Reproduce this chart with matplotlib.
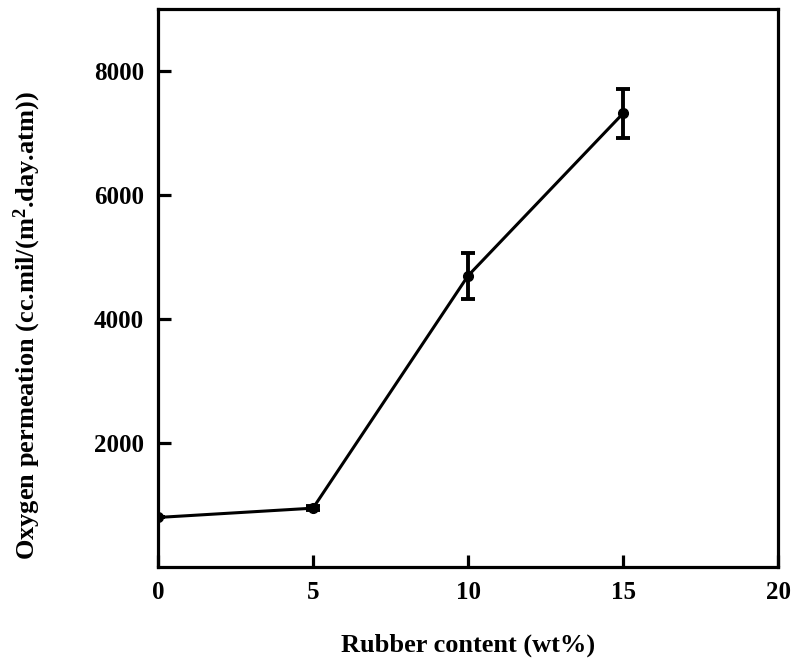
import matplotlib
matplotlib.use("Agg")
import matplotlib.pyplot as plt

rubber_content = [0, 5, 10, 15]
permeation = [800, 950, 4700, 7320]
permeation_err = [0, 30, 370, 400]

x_ticks = [0, 5, 10, 15, 20]
y_ticks = [2000, 4000, 6000, 8000]

plt.rcParams["font.family"] = ["Liberation Serif", "DejaVu Serif"]
plt.rcParams["font.weight"] = "bold"
plt.rcParams["mathtext.fontset"] = "custom"
plt.rcParams["mathtext.rm"] = "Liberation Serif:bold"
plt.rcParams["mathtext.bf"] = "Liberation Serif:bold"
plt.rcParams["mathtext.it"] = "Liberation Serif:bold"

fig = plt.figure(figsize=(7.98, 6.66), dpi=100)
ax = fig.add_axes([0.198, 0.1486, 0.777, 0.8374])

ax.errorbar(rubber_content, permeation, yerr=permeation_err,
            color="black", linewidth=2.2, marker="o", markersize=7,
            elinewidth=2.8, capsize=5, capthick=2.8)

ax.set_xlim(0, 20)
ax.set_ylim(0, 9000)
ax.set_xticks(x_ticks)
ax.set_yticks(y_ticks)

for s in ax.spines.values():
    s.set_linewidth(2.3)
ax.tick_params(direction="in", length=9, width=2.3, labelsize=18, pad=10)
for lbl in ax.get_xticklabels() + ax.get_yticklabels():
    lbl.set_fontweight("bold")

ax.set_xlabel("Rubber content (wt%)", fontsize=19, fontweight="bold", va="center")
ax.set_ylabel(r"Oxygen permeation (cc.mil/(m$^{2}$.day.atm))",
              fontsize=19, fontweight="bold", va="center")
ax.xaxis.set_label_coords(0.5, -0.14)
ax.yaxis.set_label_coords(-0.21, 0.432)

fig.savefig("out.png", dpi=100)
